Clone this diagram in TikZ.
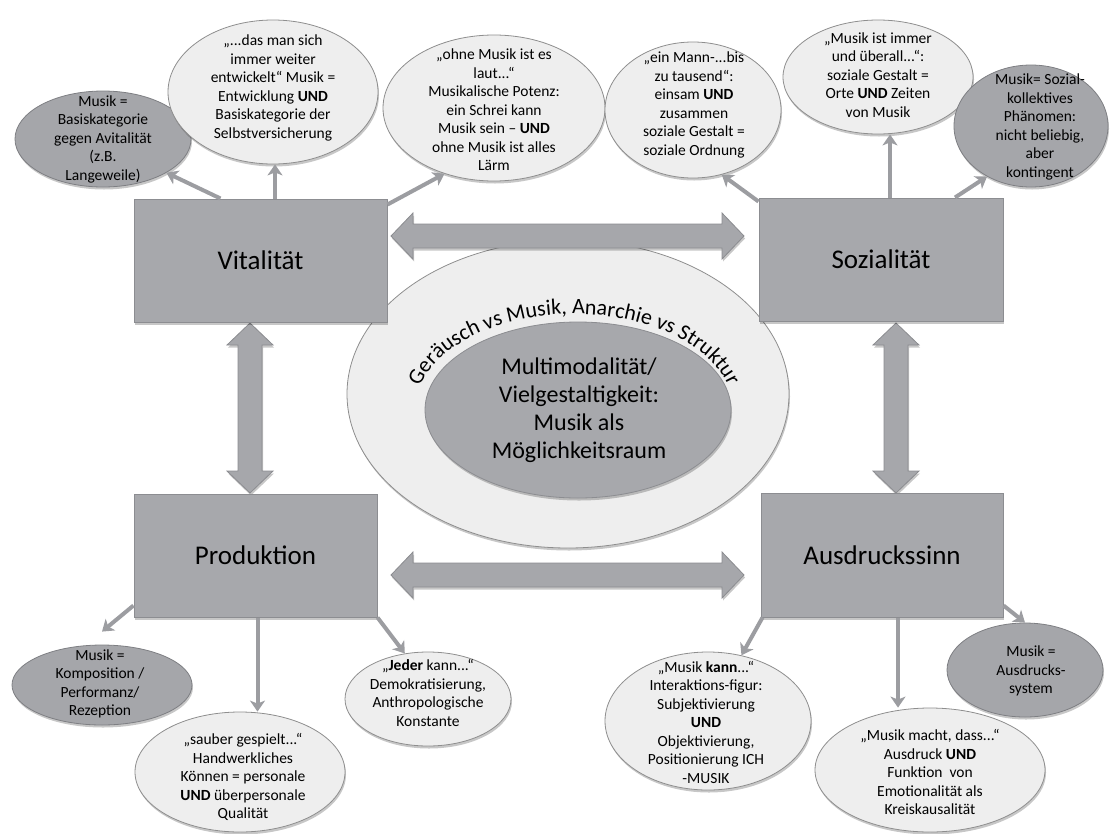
\documentclass[tikz,border=0pt]{standalone}
\usepackage{fontspec}
\setmainfont{Carlito}
\usetikzlibrary{shapes.geometric,arrows.meta,decorations.text,shadows,calc}
\definecolor{boxfill}{HTML}{A7A8AC}
\definecolor{boxline}{HTML}{8C8D91}
\definecolor{darkfill}{HTML}{A5A6AA}
\definecolor{darkline}{HTML}{7E7F83}
\definecolor{lightfill}{HTML}{EEEEEE}
\definecolor{lightline}{HTML}{8E8E8E}
\definecolor{arrowcol}{HTML}{9C9DA1}
\definecolor{blockfill}{HTML}{A6A7AB}
\definecolor{blockline}{HTML}{8B8C90}
\newcommand\hblockarrow[3]{% x1, x2, y
  \filldraw[block] (#1,#3) -- ({#1+22},{#3-23}) -- ({#1+22},{#3-12}) -- ({#2-22},{#3-12}) -- ({#2-22},{#3-23}) -- (#2,#3) -- ({#2-22},{#3+23}) -- ({#2-22},{#3+12}) -- ({#1+22},{#3+12}) -- ({#1+22},{#3+23}) -- cycle;}
\newcommand\vblockarrow[3]{% y1, y2, x
  \filldraw[block] (#3,#1) -- ({#3-23},{#1+22}) -- ({#3-12},{#1+22}) -- ({#3-12},{#2-22}) -- ({#3-23},{#2-22}) -- (#3,#2) -- ({#3+23},{#2-22}) -- ({#3+12},{#2-22}) -- ({#3+12},{#1+22}) -- ({#3+23},{#1+22}) -- cycle;}
\begin{document}
\begin{tikzpicture}[x=1pt,y=-1pt,
  softshadow/.style={drop shadow={shadow xshift=1pt,shadow yshift=-2.5pt,opacity=.22,fill=black}},
  mainbox/.style={rectangle, draw=boxline, fill=boxfill, line width=1pt, inner sep=0pt, font=\fontsize{27}{32}\selectfont, softshadow},
  bubble/.style={ellipse, inner sep=0pt, line width=.8pt, softshadow},
  lightbubble/.style={bubble, draw=lightline, fill=lightfill},
  darkbubble/.style={bubble, draw=darkline, fill=darkfill},
  bubbletext/.style={align=center, inner sep=0pt, font=\fontsize{15.5}{18.5}\selectfont},
  link/.style={draw=arrowcol, line width=4pt, -{Stealth[length=11pt,width=15pt,inset=3pt]}},
  block/.style={fill=blockfill, draw=blockline, line width=.8pt, line join=miter, softshadow}
]
\useasboundingbox (0,0) rectangle (1110,833);

% central ellipses
\node[lightbubble, minimum width=442pt, minimum height=308pt] (outer) at (568,394) {};
\node[bubble, draw=boxline, fill=boxfill, minimum width=306pt, minimum height=176pt] (inner) at (578,410) {};
\node[align=center, inner sep=0pt, font=\fontsize{24}{28}\selectfont] (innertext) at (579,410) {Multimodalität/\\Vielgestaltigkeit:\\Musik als\\Möglichkeitsraum};
\path[decorate, decoration={text along path, text align=center,
  text={|\fontsize{22}{26}\selectfont|Geräusch vs Musik, Anarchie vs Struktur}}]
  (574,412) ++(185:160 and 98) arc[start angle=185, end angle=355, x radius=160, y radius=98];

% block arrows
\hblockarrow{391}{744}{236}
\hblockarrow{391}{744}{575}
\vblockarrow{323}{493}{250}
\vblockarrow{323}{493}{896}

% main boxes
\node[mainbox, minimum width=253pt, minimum height=123pt] (vit) at (260.5,260.5) {Vitalität};
\node[mainbox, minimum width=244pt, minimum height=123pt] (soz) at (881,259.5) {Sozialität};
\node[mainbox, minimum width=243pt, minimum height=123pt] (prod) at (255.5,555.5) {Produktion};
\node[mainbox, minimum width=242pt, minimum height=124pt] (aus) at (882,555) {Ausdruckssinn};

% bubbles
\node[darkbubble, minimum width=176pt, minimum height=96pt] (e1) at (103,139) {};
\node[lightbubble, minimum width=210pt, minimum height=144pt] (e2) at (273,92) {};
\node[lightbubble, minimum width=222pt, minimum height=146pt] (e3) at (494,108) {};
\node[lightbubble, minimum width=176pt, minimum height=136pt] (e4) at (693,110) {};
\node[lightbubble, minimum width=190pt, minimum height=114pt] (e5) at (878,77) {};
\node[darkbubble, minimum width=154pt, minimum height=122pt] (e6) at (1031,126) {};
\node[darkbubble, minimum width=180pt, minimum height=80pt] (e7) at (102,685) {};
\node[lightbubble, minimum width=210pt, minimum height=120pt] (e8) at (240,772) {};
\node[lightbubble, minimum width=166pt, minimum height=94pt] (e9) at (428,699) {};
\node[lightbubble, minimum width=206pt, minimum height=138pt] (e10) at (708,721) {};
\node[lightbubble, minimum width=230pt, minimum height=124pt] (e11) at (930,770) {};
\node[darkbubble, minimum width=156pt, minimum height=94pt] (e12) at (1025,670) {};

\node[bubbletext] (t1) at (103,139) {Musik =\\Basiskategorie\\gegen Avitalität\\(z.B.\\Langeweile)};
\node[bubbletext] (t2) at (273,88) {„...das man sich\\immer weiter\\entwickelt“ Musik =\\Entwicklung \textbf{UND}\\Basiskategorie der\\Selbstversicherung};
\node[bubbletext] (t3) at (494,110) {„ohne Musik ist es\\laut...“\\Musikalische Potenz:\\ein Schrei kann\\Musik sein – \textbf{UND}\\ohne Musik ist alles\\Lärm};
\node[bubbletext] (t4) at (694,105) {„ein Mann-...bis\\zu tausend“:\\einsam \textbf{UND}\\zusammen\\soziale Gestalt =\\soziale Ordnung};
\node[bubbletext] (t5) at (878,75) {„Musik ist immer\\und überall...“:\\soziale Gestalt =\\Orte \textbf{UND} Zeiten\\von Musik};
\node[bubbletext] (t6) at (1040,127) {Musik= Sozial-\\kollektives\\Phänomen:\\nicht beliebig,\\aber\\kontingent};
\node[bubbletext] (t7) at (100,684) {Musik =\\Komposition /\\Performanz/\\Rezeption};
\node[bubbletext] (t8) at (243,777) {„sauber gespielt...“\\Handwerkliches\\Können = personale\\\textbf{UND} überpersonale\\Qualität};
\node[bubbletext] (t9) at (428,693) {„\textbf{Jeder} kann...“\\Demokratisierung,\\Anthropologische\\Konstante};
\node[bubbletext] (t10) at (706,722) {„Musik \textbf{kann}...“\\Interaktions-figur:\\Subjektivierung\\\textbf{UND}\\Objektivierung,\\Positionierung ICH\\-MUSIK};
\node[bubbletext] (t11) at (930,772) {„Musik macht, dass...“\\Ausdruck \textbf{UND}\\Funktion\ \ von\\Emotionalität als\\Kreiskausalität};
\node[bubbletext] (t12) at (1031,671) {Musik =\\Ausdrucks-\\system};

% connectors
\draw[link] ([xshift=-40pt]vit.north) -- (e1.332);
\draw[link] ([xshift=14.5pt]vit.north) -- ([xshift=14.5pt]vit.north |- e2.south);
\draw[link] ([yshift=-6pt]vit.north east) -- (e3.233);
\draw[link] ([yshift=-4pt]soz.north west) -- (e4.294);
\draw[link] ([xshift=9pt]soz.north) -- ([xshift=9pt]soz.north |- e5.south);
\draw[link] ([xshift=74pt]soz.north) -- (e6.229);
\draw[link] ([yshift=12pt]prod.south west) -- ([yshift=13pt]e7.north);
\draw[link] ([xshift=2pt]prod.south) -- ([xshift=2pt]prod.south |- e8.north);
\draw[link] (prod.south east) -- (e9.117);
\draw[link] ([xshift=2pt]aus.south west) -- (e10.63);
\draw[link] ([xshift=16pt]aus.south) -- ([xshift=16pt]aus.south |- e11.north);
\draw[link] ([yshift=12pt]aus.south east) -- (e12.north);
\end{tikzpicture}
\end{document}
